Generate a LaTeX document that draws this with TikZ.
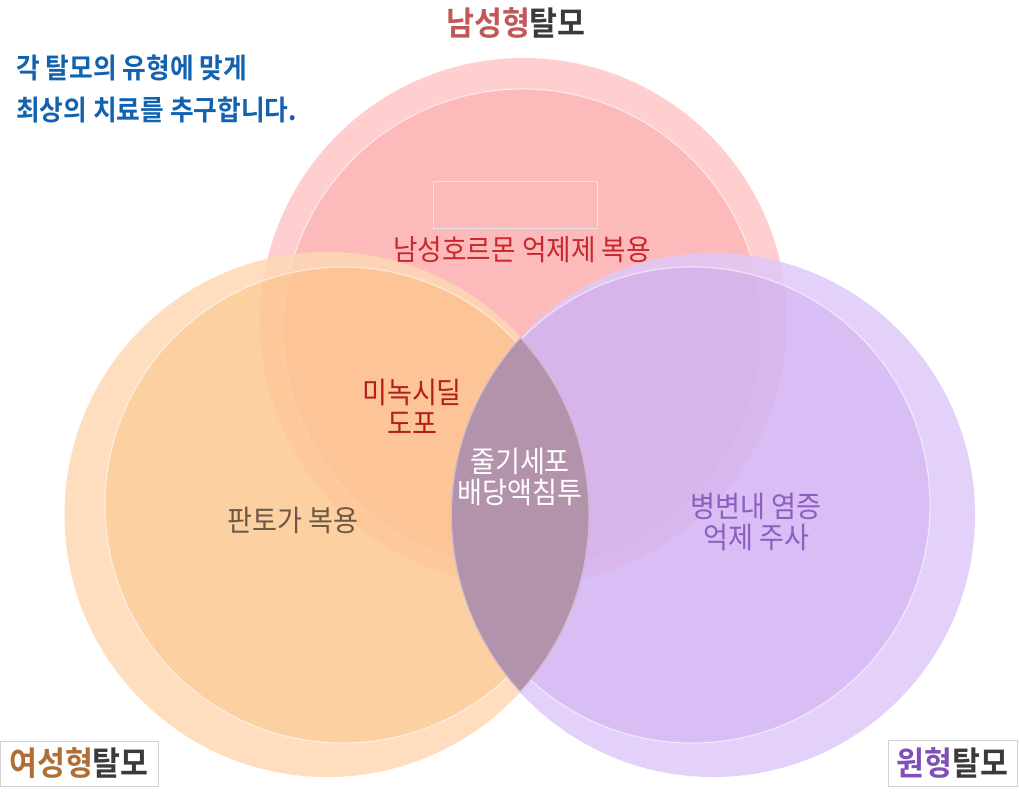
\documentclass[tikz,border=0pt]{standalone}
\usepackage{fontspec}
\setmainfont{Noto Sans CJK KR}[FakeStretch=0.92, BoldFont={Noto Sans CJK KR Bold}]
\usepackage{tikz}

\definecolor{redring}{RGB}{255,199,200}
\definecolor{redcore}{RGB}{253,174,175}
\definecolor{orangering}{RGB}{254,216,180}
\definecolor{orangecore}{RGB}{253,200,146}
\definecolor{purplering}{RGB}{222,201,248}
\definecolor{purplecore}{RGB}{209,179,243}
\definecolor{lenscolor}{RGB}{179,146,172}
\definecolor{malered}{RGB}{192,88,90}
\definecolor{femalebrown}{RGB}{176,110,55}
\definecolor{areatapurple}{RGB}{128,80,184}
\definecolor{darktext}{RGB}{58,58,58}
\definecolor{sloganblue}{RGB}{18,98,176}
\definecolor{hormonered}{RGB}{200,40,45}
\definecolor{minoxred}{RGB}{178,30,30}
\definecolor{pantogray}{RGB}{107,88,70}
\definecolor{injectpurple}{RGB}{139,94,192}

\begin{document}
\begin{tikzpicture}[x=1pt,y=-1pt,
    ring/.style={fill opacity=0.85, even odd rule},
    core/.style={fill opacity=0.85},
    rim/.style={draw=white, draw opacity=0.55, line width=1.2pt},
    heading/.style={inner sep=0pt, font=\bfseries\fontsize{33}{36}\selectfont},
    label/.style={inner sep=0pt, align=center, font=\fontsize{29.5}{31}\selectfont},
    badge/.style={draw=black!18, fill=white, line width=0.8pt, inner sep=0pt}]
    \useasboundingbox (0,0) rectangle (1019,800);
    % Circle centres
    \coordinate (maleO) at (523.5,321.5);
    \coordinate (maleI) at (522.5,328.5);
    \coordinate (femaleO) at (327,514.5);
    \coordinate (femaleI) at (343,505);
    \coordinate (areataO) at (713,515);
    \coordinate (areataI) at (692,505);
    % Male pattern circle
    \fill[ring, fill=redring] (maleO) circle (263.5pt) (maleI) circle (239.5pt);
    \fill[core, fill=redcore] (maleI) circle (239.5pt);
    \draw[rim] (maleI) circle (239.5pt);
    % Female pattern circle
    \fill[ring, fill=orangering] (femaleO) circle (262.5pt) (femaleI) circle (238pt);
    \fill[core, fill=orangecore] (femaleI) circle (238pt);
    \draw[rim] (femaleI) circle (238pt);
    % Alopecia areata circle
    \fill[ring, fill=purplering] (areataO) circle (262pt) (areataI) circle (238pt);
    \fill[core, fill=purplecore] (areataI) circle (238pt);
    \draw[rim] (areataI) circle (238pt);
    % Centre lens
    \begin{scope}
        \clip (femaleO) circle (262.5pt);
        \clip (areataO) circle (262pt);
        \fill[lenscolor] (areataO) circle (262pt);
        \draw[white, opacity=0.4, line width=2pt] (femaleO) circle (262.5pt) (areataO) circle (262pt);
    \end{scope}
    \node[draw=black!10, line width=0.6pt, minimum width=164pt, minimum height=47pt] (blank) at (515,204.5) {};
    % Titles
    \node[heading] (male) at (516,23) {\textcolor{malered}{남성형}\textcolor{darktext}{탈모}};
    \node[badge, minimum width=158pt, minimum height=45pt] (female) at (79,763.5)
        {\bfseries\fontsize{33}{36}\selectfont\textcolor{femalebrown}{여성형}\textcolor{darktext}{탈모}};
    \node[badge, minimum width=129pt, minimum height=46pt] (areata) at (952.5,763)
        {\bfseries\fontsize{33}{36}\selectfont\textcolor{areatapurple}{원형}\textcolor{darktext}{탈모}};
    \node[inner sep=0pt, anchor=west, align=left, text=sloganblue,
        font=\bfseries\fontsize{28}{42}\selectfont] (slogan) at (16,89)
        {각 탈모의 유형에 맞게\\최상의 치료를 추구합니다.};
    % Treatments
    \node[label, text=hormonered, font=\fontsize{29}{31}\selectfont] (hormone) at (522,250) {남성호르몬 억제제 복용};
    \node[label, text=minoxred] (minox) at (412,407) {미녹시딜\\도포};
    \node[label, text=white] (stem) at (520,477) {줄기세포\\배당액침투};
    \node[label, text=pantogray] (panto) at (293,520) {판토가 복용};
    \node[label, text=injectpurple] (inject) at (756,522) {병변내 염증\\억제 주사};
\end{tikzpicture}
\end{document}
